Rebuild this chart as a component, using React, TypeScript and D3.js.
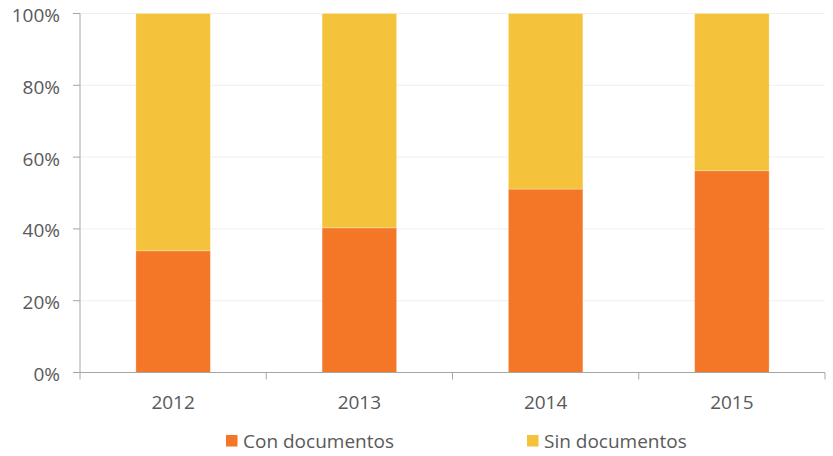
import React from "react";
import * as d3 from "d3";

const years = ["2012", "2013", "2014", "2015"];
const conDocumentos = [33.9, 40.3, 51.1, 56.2];
const sinDocumentos = [66.1, 59.7, 48.9, 43.8];
const yTicks = [0, 20, 40, 60, 80, 100];
const seriesNames = ["Con documentos", "Sin documentos"];
const colors = ["#F47727", "#F5C23B"];

export default function App() {
  const W = 833, H = 456;
  const left = 80, right = 825, top = 13.5, bottom = 372.5;
  const x = d3.scaleBand().domain(years).range([left, right]).paddingInner(0.6).paddingOuter(0.3);
  const y = d3.scaleLinear().domain([0, 100]).range([bottom, top]);
  const stackData = years.map((yr, i) => ({ year: yr, con: conDocumentos[i], sin: sinDocumentos[i] }));
  const stacked = d3.stack<any>().keys(["con", "sin"])(stackData);
  const step = (right - left) / years.length;
  const font = "'Open Sans', sans-serif";
  const fs = 19;
  return (
    <svg width={W} height={H} style={{ position: "absolute", left: 0, top: 0 }}>
      <rect width={W} height={H} fill="#fff" />
      {yTicks.filter(t => t > 0).map(t => (
        <line key={t} x1={left} x2={right} y1={y(t)} y2={y(t)} stroke="#efefef" strokeWidth={1} />
      ))}
      {stacked.map((s, si) =>
        s.map((d, i) => (
          <rect key={si + "-" + i} x={x(years[i])!} width={x.bandwidth()} y={y(d[1])} height={y(d[0]) - y(d[1])}
            fill={colors[si]} stroke="#ffffff" strokeOpacity={0.35} strokeWidth={0.8} />
        ))
      )}
      <line x1={left} x2={left} y1={top} y2={bottom} stroke="#a6a6a6" />
      <line x1={left} x2={right} y1={bottom} y2={bottom} stroke="#a6a6a6" />
      {yTicks.map(t => (
        <g key={t}>
          <line x1={left - 7} x2={left} y1={y(t)} y2={y(t)} stroke="#a6a6a6" />
          <text x={60} y={y(t) + 8.5} textAnchor="end" fontFamily={font} fontSize={fs} fill="#595959">{t}%</text>
        </g>
      ))}
      {d3.range(years.length + 1).map(i => (
        <line key={i} x1={left + i * step} x2={left + i * step} y1={bottom} y2={bottom + 7} stroke="#a6a6a6" />
      ))}
      {years.map(yr => (
        <text key={yr} x={x(yr)! + x.bandwidth() / 2} y={409} textAnchor="middle" fontFamily={font} fontSize={fs} fill="#595959">{yr}</text>
      ))}
      {seriesNames.map((n, i) => {
        const lx = i === 0 ? 226 : 527;
        return (
          <g key={n}>
            <rect x={lx} y={435} width={11.5} height={11.5} fill={colors[i]} />
            <text x={lx + 17} y={448} fontFamily={font} fontSize={fs} fill="#595959">{n}</text>
          </g>
        );
      })}
    </svg>
  );
}
